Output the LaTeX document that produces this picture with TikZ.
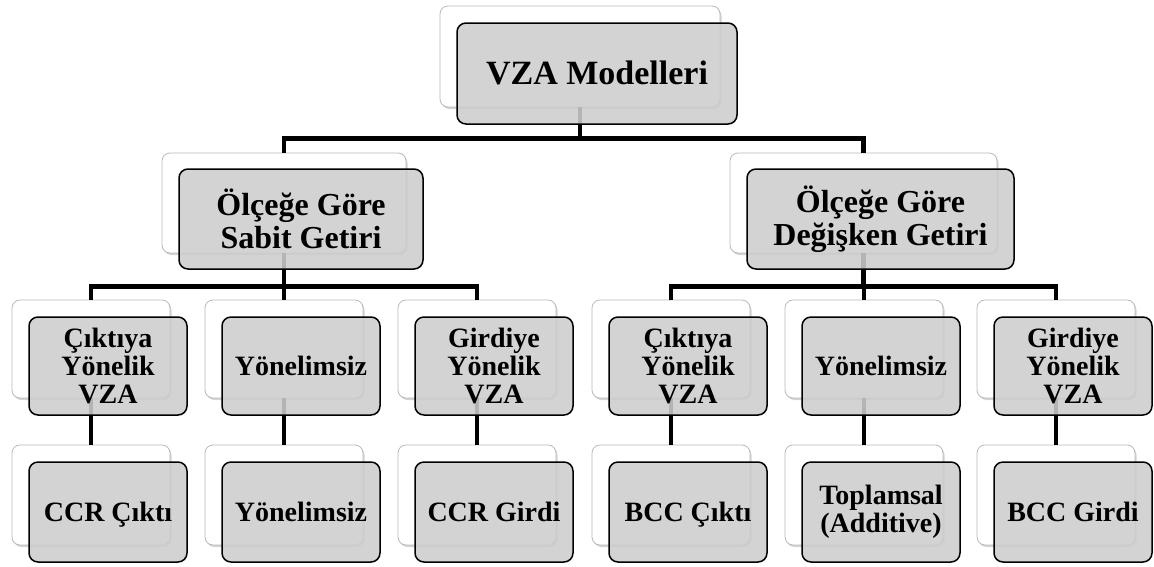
\documentclass[tikz,border=0pt]{standalone}
\usepackage{fontspec}
\setmainfont{Liberation Serif}
\usepackage{xcolor}
\usepackage{tikz}
\usetikzlibrary{shadows}
\definecolor{boxgray}{RGB}{205,205,205}
\definecolor{edgegray}{RGB}{185,185,185}
\tikzset{
  backbox/.style={draw=edgegray, line width=0.8pt, fill=white, rounded corners=8pt,
    inner sep=0pt, drop shadow={shadow xshift=1.5pt, shadow yshift=-2pt, opacity=0.35}},
  frontbox/.style={draw=black, line width=1.5pt, fill=boxgray, fill opacity=0.88,
    text opacity=1, rounded corners=9pt, inner sep=0pt, align=center},
  conn/.style={line width=4.8pt, black},
  topfont/.style={font=\fontsize{34}{38}\selectfont\bfseries, text height=22pt, text depth=0pt},
  midfont/.style={font=\fontsize{32}{33}\selectfont\bfseries},
  lowfont/.style={font=\fontsize{28}{28}\selectfont\bfseries},
  oneline/.style={text height=19pt, text depth=0pt},
}

\begin{document}
\begin{tikzpicture}[x=1pt,y=-1pt]
\useasboundingbox (0,0) rectangle (1154,566);
% back boxes
\node[backbox, minimum width=280pt, minimum height=101pt] (top-b) at (580,56.5) {};
\node[backbox, minimum width=244pt, minimum height=100pt] (sabit-b) at (284,203) {};
\node[backbox, minimum width=267pt, minimum height=100pt] (degis-b) at (863.5,203) {};
\node[backbox, minimum width=158pt, minimum height=98pt] (sc1-b) at (91,349) {};
\node[backbox, minimum width=158pt, minimum height=98pt] (sc2-b) at (284,349) {};
\node[backbox, minimum width=158pt, minimum height=98pt] (sc3-b) at (477,349) {};
\node[backbox, minimum width=158pt, minimum height=98pt] (dc1-b) at (671,349) {};
\node[backbox, minimum width=158pt, minimum height=98pt] (dc2-b) at (864,349) {};
\node[backbox, minimum width=158pt, minimum height=98pt] (dc3-b) at (1056,349) {};
\node[backbox, minimum width=158pt, minimum height=100pt] (sm1-b) at (91,495) {};
\node[backbox, minimum width=158pt, minimum height=100pt] (sm2-b) at (284,495) {};
\node[backbox, minimum width=158pt, minimum height=100pt] (sm3-b) at (477,495) {};
\node[backbox, minimum width=158pt, minimum height=100pt] (dm1-b) at (671,495) {};
\node[backbox, minimum width=158pt, minimum height=100pt] (dm2-b) at (864,495) {};
\node[backbox, minimum width=158pt, minimum height=100pt] (dm3-b) at (1056,495) {};
% connectors
\draw[conn] (top-b.south) -- ++(0,31) -| (sabit-b.north);
\draw[conn] (top-b.south) -- ++(0,31) -| (degis-b.north);
\draw[conn] (sabit-b.south) -- ++(0,33) -| (sc1-b.north);
\draw[conn] (sabit-b.south) -- (sc2-b.north);
\draw[conn] (sabit-b.south) -- ++(0,33) -| (sc3-b.north);
\draw[conn] (degis-b.south) -- ++(0,33) -| (dc1-b.north);
\draw[conn] (degis-b.south) -- ++(0,33) -| (dc2-b.north);
\draw[conn] (degis-b.south) -- ++(0,33) -| (dc3-b.north);
\draw[conn] (sc1-b.south) -- (sm1-b.north);
\draw[conn] (sc2-b.south) -- (sm2-b.north);
\draw[conn] (sc3-b.south) -- (sm3-b.north);
\draw[conn] (dc1-b.south) -- (dm1-b.north);
\draw[conn] (dc2-b.south) -- (dm2-b.north);
\draw[conn] (dc3-b.south) -- (dm3-b.north);
% front boxes
\node[frontbox, topfont, minimum width=280pt, minimum height=101pt] (top) at ([shift={(17,17)}]top-b.center) {VZA Modelleri};
\node[frontbox, midfont, minimum width=244pt, minimum height=100pt] (sabit) at ([shift={(17,16)}]sabit-b.center) {Ölçeğe Göre\\Sabit Getiri};
\node[frontbox, midfont, minimum width=267pt, minimum height=100pt] (degis) at ([shift={(17,16)}]degis-b.center) {Ölçeğe Göre\\Değişken Getiri};
\node[frontbox, lowfont, minimum width=158pt, minimum height=98pt] (sc1) at ([shift={(17,17)}]sc1-b.center) {Çıktıya\\Yönelik\\VZA};
\node[frontbox, lowfont, oneline, minimum width=158pt, minimum height=98pt] (sc2) at ([shift={(17,17)}]sc2-b.center) {Yönelimsiz};
\node[frontbox, lowfont, minimum width=158pt, minimum height=98pt] (sc3) at ([shift={(17,17)}]sc3-b.center) {Girdiye\\Yönelik\\VZA};
\node[frontbox, lowfont, minimum width=158pt, minimum height=98pt] (dc1) at ([shift={(17,17)}]dc1-b.center) {Çıktıya\\Yönelik\\VZA};
\node[frontbox, lowfont, oneline, minimum width=158pt, minimum height=98pt] (dc2) at ([shift={(17,17)}]dc2-b.center) {Yönelimsiz};
\node[frontbox, lowfont, minimum width=158pt, minimum height=98pt] (dc3) at ([shift={(17,17)}]dc3-b.center) {Girdiye\\Yönelik\\VZA};
\node[frontbox, lowfont, oneline, minimum width=158pt, minimum height=100pt] (sm1) at ([shift={(17,17)}]sm1-b.center) {CCR Çıktı};
\node[frontbox, lowfont, oneline, minimum width=158pt, minimum height=100pt] (sm2) at ([shift={(17,17)}]sm2-b.center) {Yönelimsiz};
\node[frontbox, lowfont, oneline, minimum width=158pt, minimum height=100pt] (sm3) at ([shift={(17,17)}]sm3-b.center) {CCR Girdi};
\node[frontbox, lowfont, oneline, minimum width=158pt, minimum height=100pt] (dm1) at ([shift={(17,17)}]dm1-b.center) {BCC Çıktı};
\node[frontbox, lowfont, minimum width=158pt, minimum height=100pt] (dm2) at ([shift={(17,17)}]dm2-b.center) {Toplamsal\\(Additive)};
\node[frontbox, lowfont, oneline, minimum width=158pt, minimum height=100pt] (dm3) at ([shift={(17,17)}]dm3-b.center) {BCC Girdi};
\end{tikzpicture}
\end{document}
